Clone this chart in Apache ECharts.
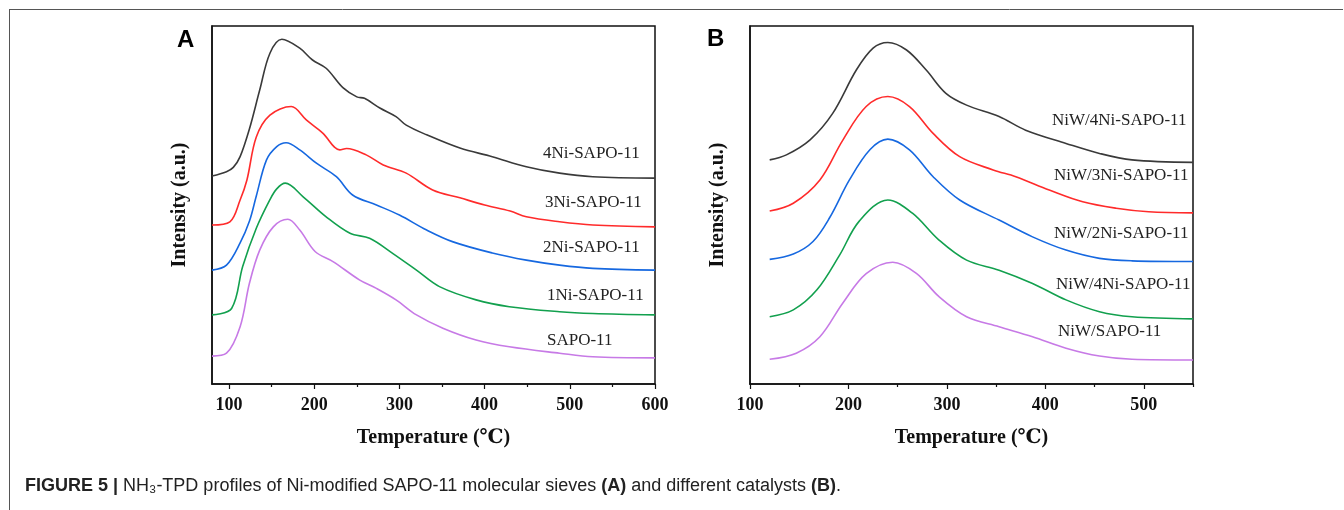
<!DOCTYPE html>
<html>
<head>
<meta charset="utf-8">
<script src="https://cdn.jsdelivr.net/npm/echarts@6/dist/echarts.min.js"></script>
<style>
html,body{margin:0;padding:0;background:#fff;}
#chart{width:1344px;height:510px;}
</style>
</head>
<body>
<div id="chart"></div>
<script>
// ---------- DATA: panel A (Temperature °C, Intensity a.u.) ----------
const namesA = ['4Ni-SAPO-11', '3Ni-SAPO-11', '2Ni-SAPO-11', '1Ni-SAPO-11', 'SAPO-11'];
const a4Ni = [[80,58.1],[97,59.3],[105,60.5],[113,63.5],[124,71.3],[136,82.1],[148,92.4],[162,96.3],[183,93.8],[198,90.5],[214,88.2],[234,82.7],[250,80.2],[259,79.8],[277,77.1],[296,74.7],[308,72.3],[332,69.6],[371,65.9],[409,63.5],[449,60.7],[488,58.9],[527,57.9],[600,57.5]];
const a3Ni = [[80,44.4],[101,45.3],[113,51.4],[121,57.0],[132,69.0],[148,75.1],[173,77.5],[191,73.7],[210,70.1],[230,65.4],[238,65.8],[261,64.0],[281,61.2],[308,58.9],[339,54.2],[371,52.0],[400,50.0],[430,48.3],[449,46.7],[488,45.3],[527,44.4],[600,43.9]];
const a2Ni = [[80,31.8],[97,33.2],[113,39.4],[124,45.5],[132,52.5],[144,62.6],[156,66.3],[167,67.4],[183,65.4],[203,61.6],[226,57.9],[245,52.8],[273,50.0],[300,47.2],[332,43.0],[363,39.7],[409,36.6],[449,34.6],[488,33.2],[527,32.3],[600,31.8]];
const a1Ni = [[80,19.3],[103,21.1],[116,32.8],[132,43.5],[148,51.5],[156,54.5],[166,56.1],[187,52.3],[214,46.7],[242,42.1],[265,40.7],[292,36.5],[320,31.8],[347,27.2],[390,23.5],[429,21.6],[488,20.2],[527,19.7],[600,19.3]];
const aSapo = [[80,7.8],[97,8.6],[113,16.0],[124,28.2],[136,37.4],[152,43.9],[169,46.0],[183,43.0],[201,37.0],[222,34.2],[253,29.1],[273,26.7],[296,23.5],[320,19.3],[351,15.6],[390,12.3],[429,10.4],[488,8.6],[527,7.6],[600,7.3]];

// ---------- DATA: panel B ----------
const namesB = ['NiW/4Ni-SAPO-11', 'NiW/3Ni-SAPO-11', 'NiW/2Ni-SAPO-11', 'NiW/4Ni-SAPO-11', 'NiW/SAPO-11'];
const b4Ni = [[120,62.6],[137,64.0],[161,68.2],[184,75.6],[208,87.7],[225,93.8],[240,95.4],[259,93.3],[279,87.7],[299,81.2],[320,77.9],[353,74.7],[380,70.9],[421,67.2],[455,64.4],[488,62.6],[550,61.9]];
const b3Ni = [[120,48.3],[144,50.5],[171,57.0],[194,68.0],[218,77.5],[240,80.3],[262,77.5],[286,70.0],[313,63.5],[347,59.8],[370,57.9],[404,54.2],[438,50.9],[472,49.1],[505,48.1],[550,47.8]];
const b2Ni = [[120,34.8],[144,36.3],[164,39.8],[181,46.5],[201,57.0],[222,65.5],[240,68.4],[262,65.4],[286,57.9],[313,51.4],[353,45.8],[387,41.1],[421,37.4],[455,35.1],[488,34.4],[550,34.2]];
const b4NiB = [[120,18.8],[144,20.7],[168,26.3],[191,36.0],[211,45.5],[240,51.4],[265,47.7],[292,40.2],[320,34.6],[353,31.8],[387,28.1],[421,23.5],[455,20.2],[488,18.8],[550,18.2]];
const bSapo = [[120,6.9],[147,8.6],[171,13.2],[194,22.5],[218,30.8],[245,34.0],[269,30.9],[292,24.4],[320,18.8],[353,16.0],[387,13.2],[421,10.0],[455,7.8],[488,6.9],[550,6.7]];

const majorTicksA = [100, 200, 300, 400, 500, 600];
const minorTicksA = [150, 250, 350, 450, 550];
const majorTicksB = [100, 200, 300, 400, 500];
const minorTicksB = [150, 250, 350, 450, 550];

const colors = ['#3a3a3a', '#ff2b2b', '#1668e0', '#12a04e', '#c77ae6'];

const serif = '"Liberation Serif", "Times New Roman", "DejaVu Serif", serif';
const sans = '"Liberation Sans", Arial, Helvetica, sans-serif';

const chart = echarts.init(document.getElementById('chart'), null, {renderer: 'canvas'});

function xAxes(gridIndex, min, max, major, minor) {
  return [
    {
      type: 'value', gridIndex, min, max, position: 'bottom',
      name: 'Temperature (℃)', nameLocation: 'middle', nameGap: 44,
      nameTextStyle: {fontFamily: serif, fontWeight: 'bold', fontSize: 20, color: '#111'},
      axisLine: {show: true, onZero: false, lineStyle: {color: '#111', width: 1.5}},
      axisTick: {show: true, inside: false, length: 5, customValues: major, lineStyle: {color: '#111', width: 1.2}},
      axisLabel: {show: true, customValues: major, margin: 12, fontFamily: serif, fontWeight: 'bold', fontSize: 18, color: '#111'},
      splitLine: {show: false}
    },
    {
      type: 'value', gridIndex, min, max, position: 'bottom',
      axisLine: {show: false},
      axisTick: {show: true, inside: false, length: 3, customValues: minor, lineStyle: {color: '#111', width: 1.2}},
      axisLabel: {show: false},
      splitLine: {show: false}
    }
  ];
}

function yAxis(gridIndex) {
  return {
    type: 'value', gridIndex, min: 0, max: 100,
    name: 'Intensity (a.u.)', nameLocation: 'middle', nameGap: 22,
    nameTextStyle: {fontFamily: serif, fontWeight: 'bold', fontSize: 20, color: '#111'},
    axisLine: {show: true, lineStyle: {color: '#111', width: 1.5}},
    axisTick: {show: false}, axisLabel: {show: false}, splitLine: {show: false}
  };
}

function line(name, data, color, xi, yi) {
  return {
    name, type: 'line', data, xAxisIndex: xi, yAxisIndex: yi,
    smooth: 0.35, showSymbol: false, symbol: 'none',
    lineStyle: {color, width: 1.6}, silent: true, animation: false
  };
}

function labelText(x, y, text) {
  return {type: 'text', left: x, top: y - 10, style: {text, fontFamily: serif, fontSize: 17, fill: '#222'}};
}

const caption = {
  type: 'text', left: 25, top: 477,
  style: {
    text: '{b|FIGURE 5 |} NH₃-TPD profiles of Ni-modified SAPO-11 molecular sieves {b|(A)} and different catalysts {b|(B)}.',
    fontFamily: sans, fontSize: 18, fill: '#222',
    rich: {b: {fontFamily: sans, fontSize: 18, fontWeight: 'bold', fill: '#222'}}
  }
};

const option = {
  backgroundColor: '#fff',
  animation: false,
  grid: [
    {left: 212, top: 26, width: 443, height: 358, show: true, borderColor: '#111', borderWidth: 1.5, backgroundColor: 'transparent'},
    {left: 750, top: 26, width: 443, height: 358, show: true, borderColor: '#111', borderWidth: 1.5, backgroundColor: 'transparent'}
  ],
  xAxis: [...xAxes(0, 80, 600, majorTicksA, minorTicksA), ...xAxes(1, 100, 550, majorTicksB, minorTicksB)],
  yAxis: [yAxis(0), yAxis(1)],
  series: [
    line(namesA[0], a4Ni, colors[0], 0, 0),
    line(namesA[1], a3Ni, colors[1], 0, 0),
    line(namesA[2], a2Ni, colors[2], 0, 0),
    line(namesA[3], a1Ni, colors[3], 0, 0),
    line(namesA[4], aSapo, colors[4], 0, 0),
    line(namesB[0], b4Ni, colors[0], 2, 1),
    line(namesB[1], b3Ni, colors[1], 2, 1),
    line(namesB[2], b2Ni, colors[2], 2, 1),
    line(namesB[3], b4NiB, colors[3], 2, 1),
    line(namesB[4], bSapo, colors[4], 2, 1)
  ],
  graphic: [
    {type: 'line', shape: {x1: 9, y1: 9.5, x2: 1343, y2: 9.5}, style: {stroke: '#555', lineWidth: 1}},
    {type: 'line', shape: {x1: 9.5, y1: 9, x2: 9.5, y2: 510}, style: {stroke: '#555', lineWidth: 1}},
    {type: 'text', left: 177, top: 28, style: {text: 'A', fontFamily: sans, fontWeight: 'bold', fontSize: 24, fill: '#000'}},
    {type: 'text', left: 707, top: 27, style: {text: 'B', fontFamily: sans, fontWeight: 'bold', fontSize: 24, fill: '#000'}},
    labelText(543, 155, namesA[0]),
    labelText(545, 204, namesA[1]),
    labelText(543, 249, namesA[2]),
    labelText(547, 297, namesA[3]),
    labelText(547, 342, namesA[4]),
    labelText(1052, 122, namesB[0]),
    labelText(1054, 177, namesB[1]),
    labelText(1054, 235, namesB[2]),
    labelText(1056, 286, namesB[3]),
    labelText(1058, 333, namesB[4]),
    caption
  ]
};
chart.setOption(option);
</script>
</body>
</html>
